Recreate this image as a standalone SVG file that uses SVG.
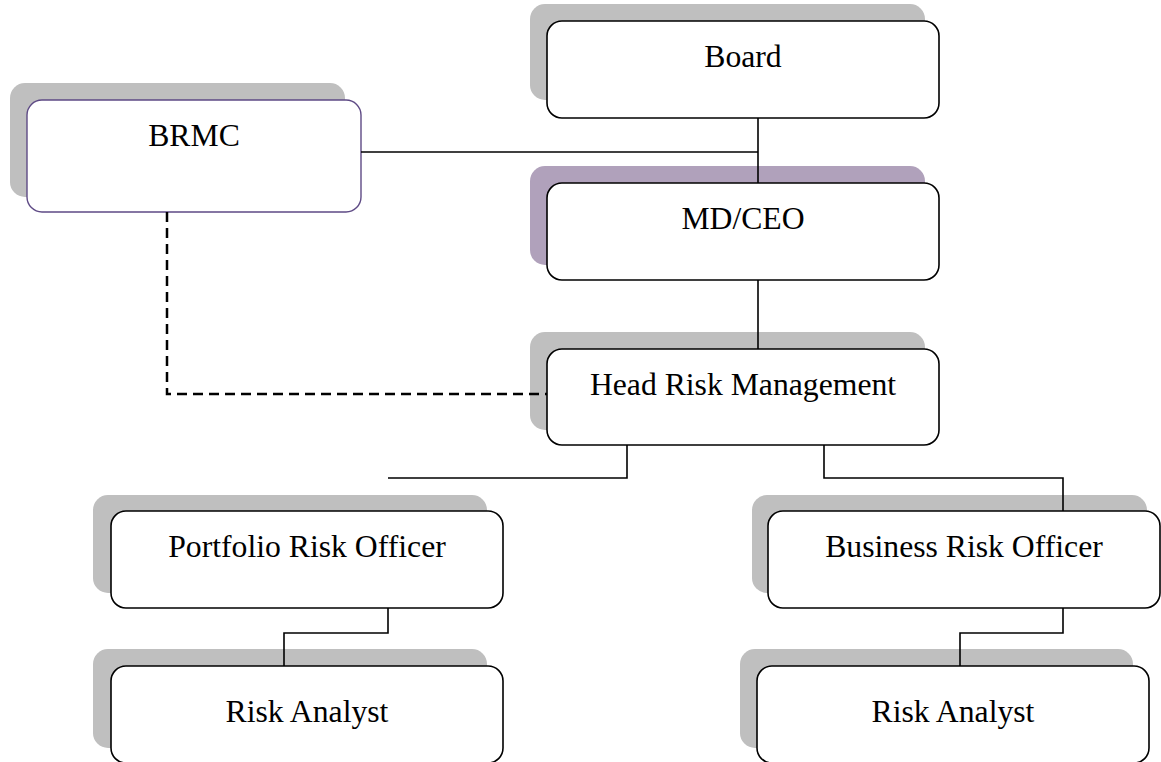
<svg xmlns="http://www.w3.org/2000/svg" width="1161" height="762" viewBox="0 0 1161 762">
  <style>
    .shadow { fill: #bfbfbf; }
    .shadow-p { fill: #b0a1bb; }
    .box { fill: #ffffff; stroke: #000000; stroke-width: 1.6; }
    .box-p { fill: #ffffff; stroke: #5e4a85; stroke-width: 1.4; }
    .label { font-family: "Liberation Serif", "Times New Roman", serif; font-size: 31.7px; fill: #000000; text-anchor: middle; }
    .conn { fill: none; stroke: #000000; stroke-width: 1.6; }
    .dash { fill: none; stroke: #000000; stroke-width: 2.5; stroke-dasharray: 10 6; }
  </style>
  <rect width="1161" height="762" fill="#ffffff"/>

  <g id="node-board">
    <rect class="shadow" x="530" y="4" width="395" height="96" rx="15"/>
    <rect class="box" x="547" y="21" width="392" height="97" rx="15"/>
    <text class="label" x="743" y="67">Board</text>
  </g>

  <g id="node-brmc">
    <rect class="shadow" x="10" y="83" width="335" height="114" rx="15"/>
    <rect class="box-p" x="27" y="100" width="334" height="112" rx="15"/>
    <text class="label" x="194" y="146">BRMC</text>
  </g>

  <g id="node-mdceo">
    <rect class="shadow-p" x="530" y="166" width="395" height="99" rx="15"/>
    <rect class="box" x="547" y="183" width="392" height="97" rx="15"/>
    <text class="label" x="743" y="229">MD/CEO</text>
  </g>

  <g id="node-head">
    <rect class="shadow" x="530" y="332" width="395" height="98" rx="15"/>
    <rect class="box" x="547" y="349" width="392" height="96" rx="15"/>
    <text class="label" x="743" y="395">Head Risk Management</text>
  </g>

  <g id="node-portfolio">
    <rect class="shadow" x="93" y="495" width="394" height="98" rx="15"/>
    <rect class="box" x="111" y="511" width="392" height="97" rx="15"/>
    <text class="label" x="307" y="557">Portfolio Risk Officer</text>
  </g>

  <g id="node-business">
    <rect class="shadow" x="752" y="495" width="395" height="98" rx="15"/>
    <rect class="box" x="768" y="511" width="392" height="97" rx="15"/>
    <text class="label" x="964" y="557">Business Risk Officer</text>
  </g>

  <g id="node-analyst-left">
    <rect class="shadow" x="93" y="649" width="394" height="99" rx="15"/>
    <rect class="box" x="111" y="666" width="392" height="97" rx="15"/>
    <text class="label" x="307" y="722">Risk Analyst</text>
  </g>

  <g id="node-analyst-right">
    <rect class="shadow" x="740" y="649" width="393" height="99" rx="15"/>
    <rect class="box" x="757" y="666" width="392" height="97" rx="15"/>
    <text class="label" x="953" y="722">Risk Analyst</text>
  </g>

  <g id="connectors">
    <path class="conn" d="M758 118 V183"/>
    <path class="conn" d="M361 152 H758"/>
    <path class="conn" d="M758 280 V349"/>
    <path class="dash" d="M167 212 V394 H547"/>
    <path class="conn" d="M627 445 V478 H388"/>
    <path class="conn" d="M824 445 V478 H1063 V511"/>
    <path class="conn" d="M388 608 V633 H284 V666"/>
    <path class="conn" d="M1063 608 V633 H960 V666"/>
  </g>
</svg>
